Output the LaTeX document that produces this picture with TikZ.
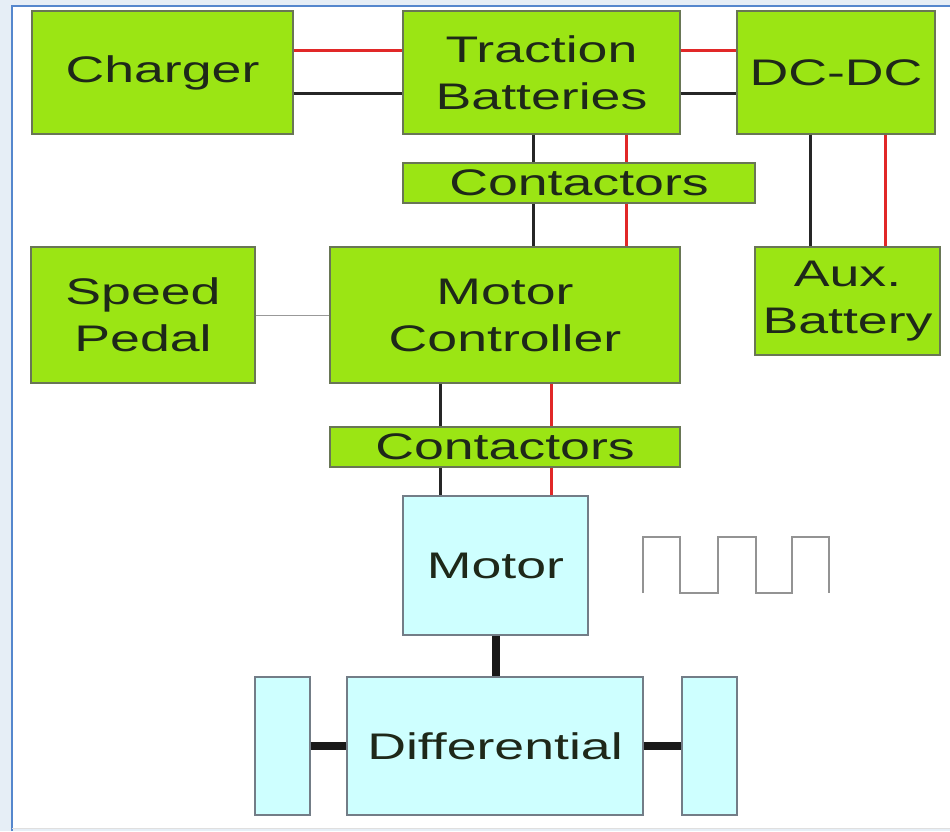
\documentclass[tikz,border=0pt]{standalone}
\usepackage{fontspec}
\setmainfont{Liberation Sans}[FakeStretch=1.45]
\usepackage{tikz}
\usetikzlibrary{positioning,calc}

\begin{document}
\begin{tikzpicture}[
  x=1pt, y=-1pt,
  every node/.style={inner sep=0pt, align=center, text=txtc,
    font=\fontsize{37}{47}\selectfont},
  gbox/.style={draw=gedge, fill=greenc, line width=1.2pt},
  cbox/.style={draw=cedge, fill=cyanc, line width=1.2pt},
  redw/.style={draw=redc, line width=3pt},
  blkw/.style={draw=black!85, line width=3pt},
  sigw/.style={draw=gray!80, line width=0.9pt},
  shaft/.style={draw=black!90, line width=8pt}
]
\definecolor{greenc}{RGB}{155,229,20}
\definecolor{gedge}{RGB}{105,118,85}
\definecolor{cyanc}{RGB}{206,255,255}
\definecolor{cedge}{RGB}{115,125,135}
\definecolor{redc}{RGB}{225,40,40}
\definecolor{txtc}{RGB}{30,40,25}
\definecolor{bgc}{RGB}{230,238,246}
\definecolor{framec}{RGB}{85,135,205}

\useasboundingbox (0,0) rectangle (950,831);

% Frame
\fill[bgc] (0,0) rectangle (950,831);
\fill[white] (12,6) rectangle (950,828);
\draw[framec, line width=2pt] (12,831) -- (12,6) -- (950,6);
\draw[gray!25, line width=1pt] (12,828) -- (950,828);

% Nodes (x, y in px of the sheet, y downwards)
\node[gbox, minimum width=261pt, minimum height=123pt] (charger) at (162.5,72.5) {Charger};
\node[gbox, minimum width=277pt, minimum height=123pt] (batt)    at (541.5,72.5) {Traction\\Batteries};
\node[gbox, minimum width=198pt, minimum height=123pt] (dcdc)    at (836,72.5)   {DC-DC};
\node[gbox, minimum width=352pt, minimum height=40pt]  (cont1)   at (579,183)    {Contactors};
\node[gbox, minimum width=185pt, minimum height=108pt] (aux)     at (847.5,301)  {Aux.\\Battery};
\node[gbox, minimum width=224pt, minimum height=136pt] (pedal)   at (143,315)    {Speed\\Pedal};
\node[gbox, minimum width=350pt, minimum height=136pt] (mc)      at (505,315)    {Motor\\Controller};
\node[gbox, minimum width=350pt, minimum height=40pt]  (cont2)   at (505,447)    {Contactors};
\node[cbox, minimum width=185pt, minimum height=139pt] (motor)   at (495.5,565.5) {Motor};
\node[cbox, minimum width=296pt, minimum height=138pt] (diff)    at (495,746)    {Differential};
\node[cbox, minimum width=55pt,  minimum height=138pt] (wheelL)  at (282.5,746)  {};
\node[cbox, minimum width=55pt,  minimum height=138pt] (wheelR)  at (709.5,746)  {};

% Wires
\draw[redw] ([yshift=22.5pt]charger.east) -- ([yshift=22.5pt]batt.west);
\draw[blkw] ([yshift=-20.5pt]charger.east) -- ([yshift=-20.5pt]batt.west);
\draw[redw] ([yshift=22.5pt]batt.east) -- ([yshift=22.5pt]dcdc.west);
\draw[blkw] ([yshift=-20.5pt]batt.east) -- ([yshift=-20.5pt]dcdc.west);

\draw[blkw] ([xshift=-8.5pt]batt.south) -- ([xshift=-8.5pt]batt.south |- cont1.north);
\draw[redw] ([xshift=84.5pt]batt.south) -- ([xshift=84.5pt]batt.south |- cont1.north);
\draw[blkw] ([xshift=-8.5pt]batt.south |- cont1.south) -- ([xshift=-8.5pt]batt.south |- mc.north);
\draw[redw] ([xshift=84.5pt]batt.south |- cont1.south) -- ([xshift=84.5pt]batt.south |- mc.north);

\draw[blkw] ([xshift=-26pt]dcdc.south) -- ([xshift=-26pt]dcdc.south |- aux.north);
\draw[redw] ([xshift=49pt]dcdc.south) -- ([xshift=49pt]dcdc.south |- aux.north);

\draw[sigw] (pedal.east) -- (pedal.east -| mc.west);

\draw[blkw] ([xshift=-65pt]mc.south) -- ([xshift=-65pt]mc.south |- cont2.north);
\draw[redw] ([xshift=46pt]mc.south) -- ([xshift=46pt]mc.south |- cont2.north);
\draw[blkw] ([xshift=-65pt]mc.south |- cont2.south) -- ([xshift=-65pt]mc.south |- motor.north);
\draw[redw] ([xshift=46pt]mc.south |- cont2.south) -- ([xshift=46pt]mc.south |- motor.north);

% Drive train
\draw[shaft] (motor.south) -- (motor.south |- diff.north);
\draw[shaft] (wheelL.east) -- (diff.west);
\draw[shaft] (diff.east) -- (wheelR.west);

% PWM wave
\draw[gray!85, line width=1.5pt] (643,593) -- (643,537) -- (680,537) -- (680,593)
  -- (718,593) -- (718,537) -- (756,537) -- (756,593) -- (792,593) -- (792,537)
  -- (829,537) -- (829,593);
\end{tikzpicture}
\end{document}
